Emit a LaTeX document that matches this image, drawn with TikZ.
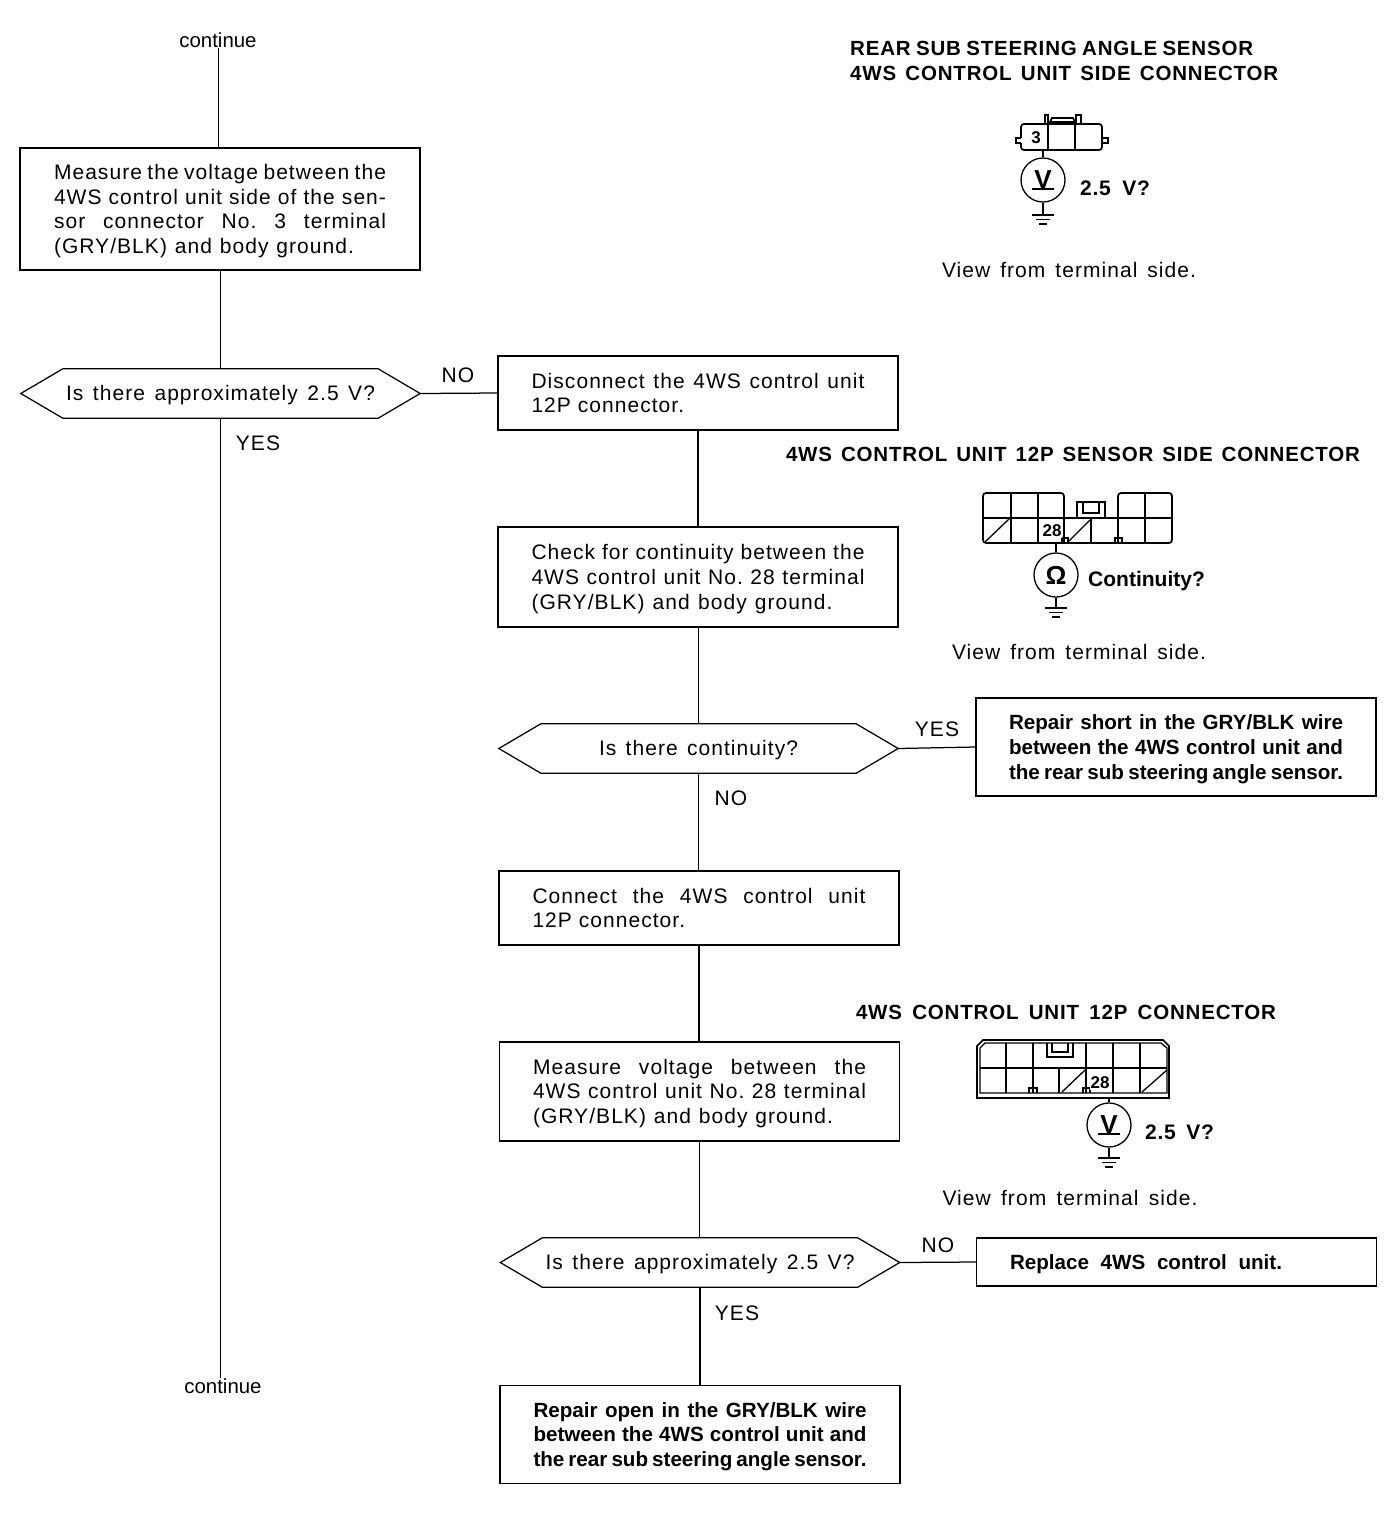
\documentclass[tikz,border=0pt]{standalone}
\usepackage{fontspec}
\setmainfont{Liberation Sans}
\newfontfamily\spacedf[LetterSpace=5]{Liberation Sans}
\newfontfamily\titlef[LetterSpace=4,BoldFont={Liberation Sans Bold}]{Liberation Sans}
\newcommand{\fitline}[2]{\makebox[#1pt][s]{#2}}
\newcommand{\lifted}[1]{\raisebox{-2.5pt}[\height][\depth]{\begin{tabular}{@{}l@{}}#1\end{tabular}}}
\newcommand{\hexdraw}[1]{\draw[conn] (#1.west) -- ([xshift=42pt]#1.north west) -- ([xshift=-42pt]#1.north east) -- (#1.east) -- ([xshift=-42pt]#1.south east) -- ([xshift=42pt]#1.south west) -- cycle;}
\newcommand{\earth}[2]{\draw[wire] (#1-11,#2) -- (#1+11,#2);\draw[wire] (#1-7,#2+4.5) -- (#1+7,#2+4.5);\draw[wire] (#1-4,#2+9) -- (#1+4,#2+9);}
\frenchspacing
\tikzset{
  x=1pt,y=-1pt,
  conn/.style={draw=black,line width=1.25pt},
  thinconn/.style={draw=black,line width=0.9pt},
  wire/.style={draw=black,line width=1.3pt},
  thick wire/.style={draw=black,line width=1.7pt},
  body/.style={font=\spacedf\fontsize{21}{24.7}\selectfont,inner sep=0pt},
  boldbody/.style={font=\bfseries\fontsize{20.6}{24.7}\selectfont,inner sep=0pt},
  flowbox/.style={conn,minimum width=400pt,inner sep=0pt},
  hexbox/.style={body,minimum width=399pt,minimum height=49pt},
  plain/.style={font=\fontsize{20.4}{24}\selectfont,inner sep=0pt},
  lab/.style={font=\spacedf\fontsize{21}{24}\selectfont,inner sep=0pt},
  head/.style={font=\titlef\bfseries\fontsize{20.5}{24.5}\selectfont,inner sep=0pt,align=left},
  meter/.style={circle,wire,minimum size=44pt,inner sep=0pt,font=\bfseries\fontsize{26}{26}\selectfont},
  pin/.style={font=\bfseries\fontsize{17}{17}\selectfont,inner sep=0pt},
  readout/.style={font=\titlef\bfseries\fontsize{21}{24}\selectfont,inner sep=0pt},
}
\begin{document}
\begin{tikzpicture}
\useasboundingbox (0,0) rectangle (1392,1516);
% flow boxes
\node[plain] (c1) at (218,40) {continue};
\node[flowbox,body,minimum height=122pt,draw] (b1) at (220,209) {\lifted{\fitline{332}{Measure the voltage between the}\\\fitline{332}{4WS control unit side of the sen-}\\\fitline{332}{sor connector No. 3 terminal}\\\fitline{300}{(GRY/BLK) and body ground.}\hspace{32pt}}};
\node[hexbox] (d1) at (220.5,393.5) {\lifted{\fitline{309}{Is there approximately 2.5 V?}}};
\hexdraw{d1}
\node[plain] (c2) at (223,1386) {continue};
\node[flowbox,body,minimum height=74pt,draw] (b2) at (698,393) {\lifted{\fitline{333}{Disconnect the 4WS control unit}\\12P connector.}};
\node[flowbox,body,minimum height=100pt,draw] (b3) at (698,577) {\lifted{\fitline{333}{Check for continuity between the}\\\fitline{333}{4WS control unit No. 28 terminal}\\\fitline{301}{(GRY/BLK) and body ground.}}};
\node[hexbox] (d2) at (698.5,748.5) {\lifted{\fitline{199}{Is there continuity?}}};
\hexdraw{d2}
\node[flowbox,boldbody,minimum height=98pt,draw] (b4) at (1176,747) {\lifted{\fitline{334}{Repair short in the GRY/BLK wire}\\\fitline{334}{between the 4WS control unit and}\\\fitline{334}{the rear sub steering angle sensor.}}};
\node[flowbox,body,minimum height=74pt,draw] (b5) at (699,908) {\lifted{\fitline{333}{Connect the 4WS control unit}\\12P connector.}};
\node[flowbox,body,minimum height=99pt,draw] (b6) at (699.5,1091.5) {\lifted{\fitline{333}{Measure voltage between the}\\\fitline{333}{4WS control unit No. 28 terminal}\\\fitline{300}{(GRY/BLK) and body ground.}}};
\node[hexbox] (d3) at (700,1262.5) {\lifted{\fitline{309}{Is there approximately 2.5 V?}}};
\hexdraw{d3}
\node[flowbox,boldbody,minimum height=48pt,draw] (b7) at (1176.5,1262) {\lifted{\makebox[333pt][l]{\fitline{272}{Replace 4WS control unit.}}}};
\node[flowbox,boldbody,minimum height=98pt,draw] (b8) at (700,1434.5) {\lifted{\fitline{333}{Repair open in the GRY/BLK wire}\\\fitline{333}{between the 4WS control unit and}\\\fitline{333}{the rear sub steering angle sensor.}}};
% connectors
\draw[thinconn] (c1.south) -- (c1.south |- b1.north);
\draw[thinconn] (b1.south) -- (b1.south |- d1.north);
\draw[thinconn] (d1.south) -- (d1.south |- c2.north);
\draw[conn] (d1.east) -- (b2.west);
\draw[conn] (b2.south) -- (b3.north);
\draw[thinconn] (b3.south) -- (b3.south |- d2.north);
\draw[conn] (d2.east) -- (b4.west);
\draw[thinconn] (d2.south) -- (d2.south |- b5.north);
\draw[conn] (b5.south) -- (b5.south |- b6.north);
\draw[conn] (b6.south) -- (b6.south |- d3.north);
\draw[conn] (d3.east) -- (b7.west);
\draw[conn] (d3.south) -- (b8.north);
% labels
\node[lab] (l1) at (458,375) {NO};
\node[lab] (l2) at (258,443) {YES};
\node[lab] (l3) at (937,729) {YES};
\node[lab] (l4) at (731,798) {NO};
\node[lab] (l5) at (938,1245) {NO};
\node[lab] (l6) at (737,1313) {YES};
% headings
\node[head,anchor=north west] (h1) at (850,41) {\fitline{403}{REAR SUB STEERING ANGLE SENSOR}\\\fitline{428}{4WS CONTROL UNIT SIDE CONNECTOR}};
\node[head] (h2) at (1073,454) {\fitline{574}{4WS CONTROL UNIT 12P SENSOR SIDE CONNECTOR}};
\node[head] (h3) at (1066,1012) {\fitline{420}{4WS CONTROL UNIT 12P CONNECTOR}};
\node[lab] (v1) at (1069,270) {\fitline{254}{View from terminal side.}};
\node[lab] (v2) at (1079,652) {\fitline{254}{View from terminal side.}};
\node[lab] (v3) at (1070,1198) {\fitline{255}{View from terminal side.}};
% connector 1
\draw[thick wire,rounded corners=3pt] (1021,138) -- (1021,124) -- (1102,124) -- (1102,133) -- (1102,150) -- (1021,150) -- (1021,143);
\draw[wire] (1021,138) -- (1016,138) -- (1016,143) -- (1021,143);
\draw[wire] (1102,138) -- (1108,138) -- (1108,143) -- (1102,143);
\draw[wire] (1048,116) -- (1048,150) (1075,120) -- (1075,150);
\draw[wire] (1045,124) -- (1045,115) -- (1049,115);
\draw[wire] (1076,124) -- (1076,115) -- (1081,115) -- (1081,124);
\draw[thick wire] (1050,122) -- (1052,118) -- (1073,118) -- (1075,122) -- cycle;
\node[pin] (p1) at (1036,138) {3};
\node[meter] (m1) at (1043,180) {\raisebox{1.5pt}{V}};
\draw[thick wire] (1032,189) -- (1054,189);
\draw[wire] (1043,150) -- (m1.north);
\draw[wire] (m1.south) -- (1043,215);
\earth{1043}{215}
\node[readout] (t1) at (1115,188) {\fitline{70}{2.5 V?}};
% connector 2
\draw[thick wire,rounded corners=3pt] (1064,518) -- (1064,493) -- (983,493) -- (983,543) -- (1172,543) -- (1172,493) -- (1118,493) -- (1118,518);
\draw[wire] (983,518) -- (1172,518);
\draw[wire] (1011,493) -- (1011,543) (1038,493) -- (1038,543) (1064,518) -- (1064,543) (1091,518) -- (1091,543) (1118,518) -- (1118,543) (1145,493) -- (1145,543);
\draw[wire] (985,542) -- (1010,518) (1068,542) -- (1090,520);
\draw[wire] (1077,518) -- (1077,502) -- (1105,502) -- (1105,518);
\draw[thick wire] (1083,503) -- (1083,513) -- (1099,513) -- (1099,503);
\draw[wire] (1062,543) -- (1062,538) -- (1068,538) -- (1068,543);
\draw[wire] (1115,543) -- (1115,538) -- (1122,538) -- (1122,543);
\node[pin,fill=white,inner sep=0.5pt] (p2) at (1052,531) {28};
\node[meter] (m2) at (1056,575) {Ω};
\draw[wire] (1056,543) -- (m2.north);
\draw[wire] (m2.south) -- (1056,608);
\earth{1056}{608}
\node[font=\bfseries\fontsize{21}{24}\selectfont,inner sep=0pt] (t2) at (1146.5,581) {Continuity?};
% connector 3
\draw[thick wire] (977,1046) -- (983,1040) -- (1163,1040) -- (1169,1046) -- (1169,1098) -- (977,1098) -- cycle;
\draw[wire] (980,1048) -- (985,1043) -- (1161,1043) -- (1167,1048) -- (1167,1093) -- (980,1093) -- cycle;
\draw[wire] (980,1068) -- (1167,1068);
\draw[wire] (1006,1043) -- (1006,1093) (1033,1043) -- (1033,1093) (1059,1068) -- (1059,1093) (1086,1043) -- (1086,1093) (1113,1043) -- (1113,1093) (1140,1043) -- (1140,1093);
\draw[wire] (1062,1092) -- (1085,1070) (1142,1092) -- (1167,1070);
\draw[thick wire] (1047,1043) -- (1047,1057) -- (1073,1057) -- (1073,1043);
\draw[wire] (1052,1043) -- (1052,1052) -- (1068,1052) -- (1068,1043);
\draw[wire] (1029,1093) -- (1029,1088) -- (1037,1088) -- (1037,1093);
\draw[wire] (1083,1093) -- (1083,1088) -- (1090,1088) -- (1090,1093);
\node[pin,fill=white,inner sep=0.5pt] (p3) at (1100,1083) {28};
\node[meter] (m3) at (1109,1125) {\raisebox{1.5pt}{V}};
\draw[thick wire] (1098,1134) -- (1120,1134);
\draw[wire] (1109,1098) -- (m3.north);
\draw[wire] (m3.south) -- (1109,1158);
\earth{1109}{1158}
\node[readout] (t3) at (1179.5,1132) {\fitline{69}{2.5 V?}};
\end{tikzpicture}
\end{document}
